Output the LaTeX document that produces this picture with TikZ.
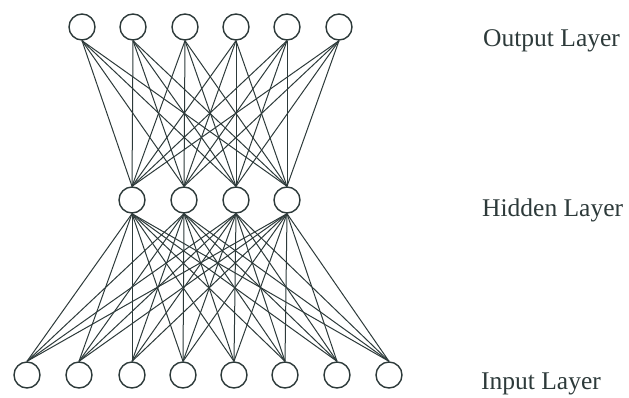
\documentclass[tikz,border=0pt]{standalone}
\usepackage{fontspec}
\setmainfont{Liberation Serif}
\definecolor{netgray}{RGB}{45,58,58}

\begin{document}
\begin{tikzpicture}[x=1pt, y=-1pt,
		neuron/.style={circle, draw=netgray, line width=1.4pt, minimum size=26pt, inner sep=0pt},
		link/.style={draw=netgray, line width=1pt},
		layername/.style={anchor=base west, inner sep=0pt, text=netgray, font=\fontsize{25.5}{28}\selectfont}]
		\useasboundingbox (0, 0) rectangle (629, 397);
		
		% output layer
		\node[neuron] (o1) at (82, 27) {};
		\node[neuron] (o2) at (133, 27) {};
		\node[neuron] (o3) at (185, 27) {};
		\node[neuron] (o4) at (236, 27) {};
		\node[neuron] (o5) at (287, 27) {};
		\node[neuron] (o6) at (339, 27) {};
		
		% hidden layer
		\node[neuron] (h1) at (132, 200) {};
		\node[neuron] (h2) at (184, 200) {};
		\node[neuron] (h3) at (236, 200) {};
		\node[neuron] (h4) at (287, 200) {};
		
		% input layer
		\node[neuron] (i1) at (27, 375) {};
		\node[neuron] (i2) at (79, 375) {};
		\node[neuron] (i3) at (132, 375) {};
		\node[neuron] (i4) at (183, 375) {};
		\node[neuron] (i5) at (234, 375) {};
		\node[neuron] (i6) at (285, 375) {};
		\node[neuron] (i7) at (337, 375) {};
		\node[neuron] (i8) at (389, 375) {};
		
		\foreach \h in {1,...,4} {
			\foreach \o in {1,...,6}
				\draw[link] (o\o.south) -- (h\h.north);
			\foreach \i in {1,...,8}
				\draw[link] (h\h.south) -- (i\i.north);
		}
		
		\node[layername] (outname) at (483, 46) {Output Layer};
		\node[layername] (hidname) at (482, 216) {Hidden Layer};
		\node[layername] (inname) at (481, 389) {Input Layer};
	\end{tikzpicture}
\end{document}
